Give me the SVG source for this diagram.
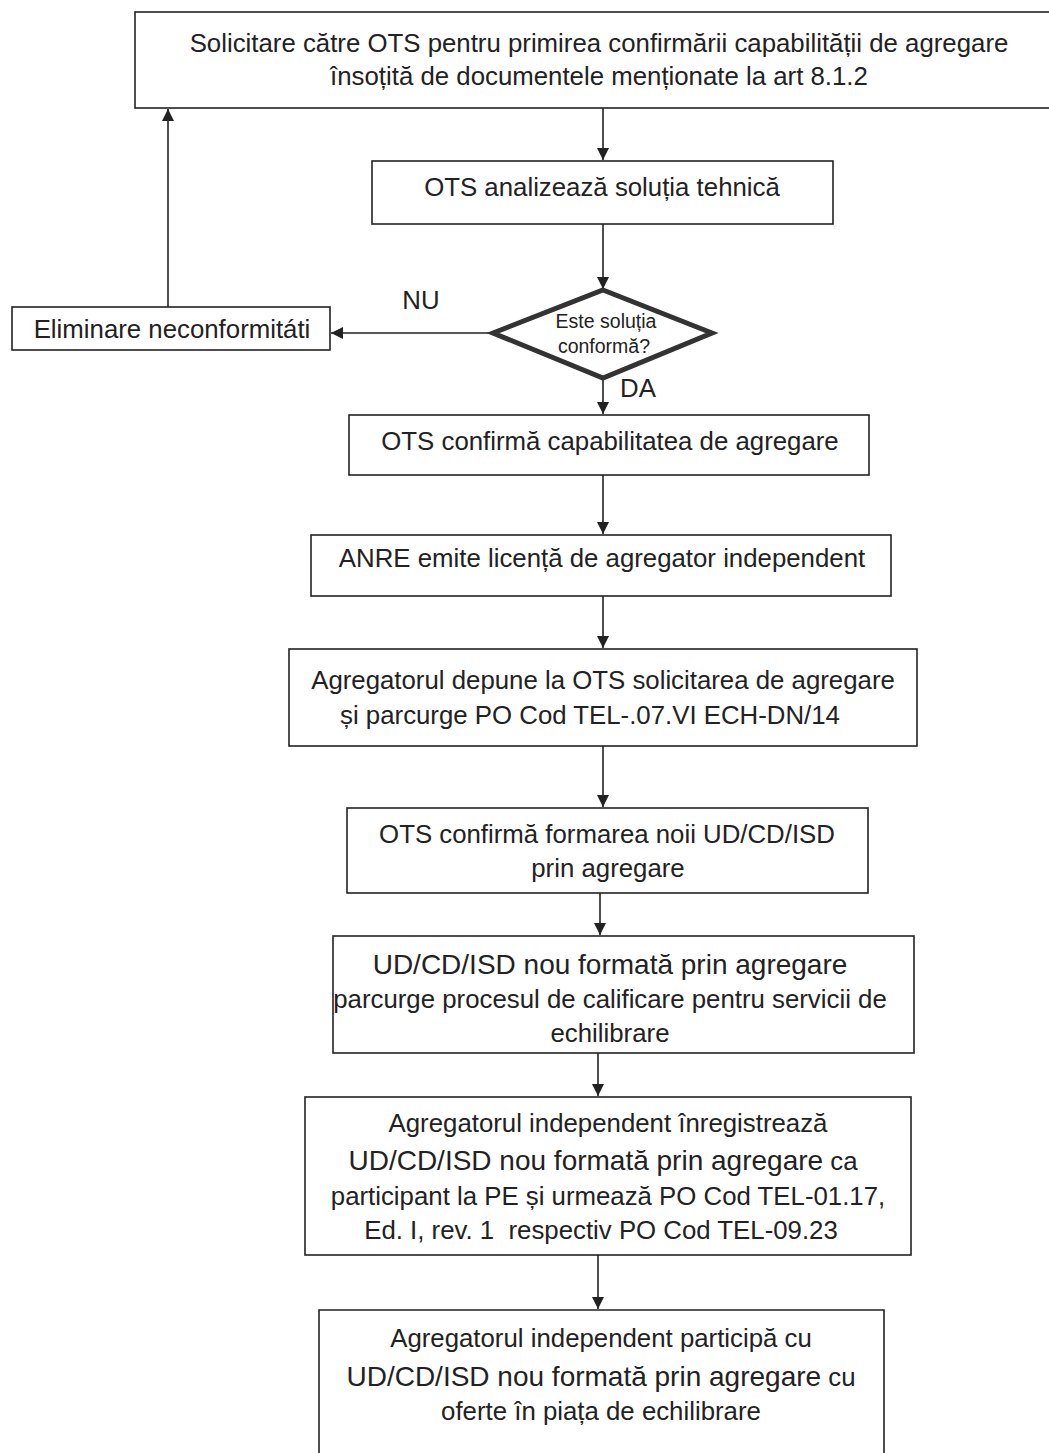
<svg xmlns="http://www.w3.org/2000/svg" width="1049" height="1453" viewBox="0 0 1049 1453">
<style>
.box{fill:#fff;stroke:#222;stroke-width:1.6}
.t{font-family:"Liberation Sans",Arial,sans-serif;font-size:25.8px;fill:#222;text-anchor:middle}
.big{font-size:28px}
.s{font-size:19.5px}
.c{stroke:#222;stroke-width:1.6;fill:none}
</style>
<defs>
<marker id="ah" viewBox="0 0 10 10" refX="10" refY="5" markerWidth="13" markerHeight="12" markerUnits="userSpaceOnUse" orient="auto">
<path d="M0,0 L10,5 L0,10 z" fill="#222"/>
</marker>
</defs>
<rect width="1049" height="1453" fill="#fff"/>
<g id="connectors">
<line class="c" x1="603" y1="108" x2="603" y2="160" marker-end="url(#ah)"/>
<line class="c" x1="603" y1="224" x2="603" y2="289" marker-end="url(#ah)"/>
<line class="c" x1="493" y1="333" x2="331" y2="333" marker-end="url(#ah)"/>
<polyline class="c" points="168,307 168,109" marker-end="url(#ah)"/>
<line class="c" x1="603" y1="378" x2="603" y2="414" marker-end="url(#ah)"/>
<line class="c" x1="603" y1="475" x2="603" y2="534" marker-end="url(#ah)"/>
<line class="c" x1="603" y1="596" x2="603" y2="648" marker-end="url(#ah)"/>
<line class="c" x1="603" y1="746" x2="603" y2="807" marker-end="url(#ah)"/>
<line class="c" x1="600" y1="893" x2="600" y2="935" marker-end="url(#ah)"/>
<line class="c" x1="598" y1="1053" x2="598" y2="1096" marker-end="url(#ah)"/>
<line class="c" x1="598" y1="1255" x2="598" y2="1309" marker-end="url(#ah)"/>
<text class="t" x="421" y="309">NU</text>
<text class="t" x="638" y="397">DA</text>
</g>
<g id="n1">
<rect class="box" x="135" y="12" width="920" height="96"/>
<text class="t" x="599" y="52">Solicitare către OTS pentru primirea confirmării capabilității de agregare</text>
<text class="t" x="599" y="85">însoțită de documentele menționate la art 8.1.2</text>
</g>
<g id="n2">
<rect class="box" x="372" y="161" width="461" height="63"/>
<text class="t" x="602" y="196">OTS analizează soluția tehnică</text>
</g>
<g id="n3">
<polygon points="603,290 712,333 603,378 493,333" fill="#fff" stroke="#333" stroke-width="5" stroke-linejoin="miter"/>
<text class="t s" x="606" y="328">Este soluția</text>
<text class="t s" x="604" y="353">conformă?</text>
</g>
<g id="n4">
<rect class="box" x="12" y="307" width="318" height="43"/>
<text class="t" x="172" y="338">Eliminare neconformitáti</text>
</g>
<g id="n5">
<rect class="box" x="349" y="415" width="520" height="60"/>
<text class="t" x="610" y="450">OTS confirmă capabilitatea de agregare</text>
</g>
<g id="n6">
<rect class="box" x="311" y="535" width="580" height="61"/>
<text class="t" x="602" y="567">ANRE emite licență de agregator independent</text>
</g>
<g id="n7">
<rect class="box" x="289" y="649" width="628" height="97"/>
<text class="t" x="603" y="689">Agregatorul depune la OTS solicitarea de agregare</text>
<text class="t" x="590" y="724">și parcurge PO Cod TEL-.07.VI ECH-DN/14</text>
</g>
<g id="n8">
<rect class="box" x="347" y="808" width="521" height="85"/>
<text class="t" x="607" y="843">OTS confirmă formarea noii UD/CD/ISD</text>
<text class="t" x="608" y="877">prin agregare</text>
</g>
<g id="n9">
<rect class="box" x="333" y="936" width="581" height="117"/>
<text class="t big" x="610" y="974">UD/CD/ISD nou formată prin agregare</text>
<text class="t" x="610" y="1008">parcurge procesul de calificare pentru servicii de</text>
<text class="t" x="610" y="1042">echilibrare</text>
</g>
<g id="n10">
<rect class="box" x="305" y="1097" width="606" height="158"/>
<text class="t" x="608" y="1132">Agregatorul independent înregistrează</text>
<text class="t"><tspan x="603" y="1170"><tspan class="big">UD/CD/ISD nou formată prin agregare</tspan> ca</tspan></text>
<text class="t" x="608" y="1205">participant la PE și urmează PO Cod TEL-01.17,</text>
<text class="t" x="601" y="1239">Ed. I, rev. 1 &#160;respectiv PO Cod TEL-09.23</text>
</g>
<g id="n11">
<path class="box" d="M319,1460 L319,1310 L884,1310 L884,1460"/>
<text class="t" x="601" y="1347">Agregatorul independent participă cu</text>
<text class="t"><tspan x="601" y="1386"><tspan class="big">UD/CD/ISD nou formată prin agregare</tspan> cu</tspan></text>
<text class="t" x="601" y="1420">oferte în piața de echilibrare</text>
</g>
</svg>
